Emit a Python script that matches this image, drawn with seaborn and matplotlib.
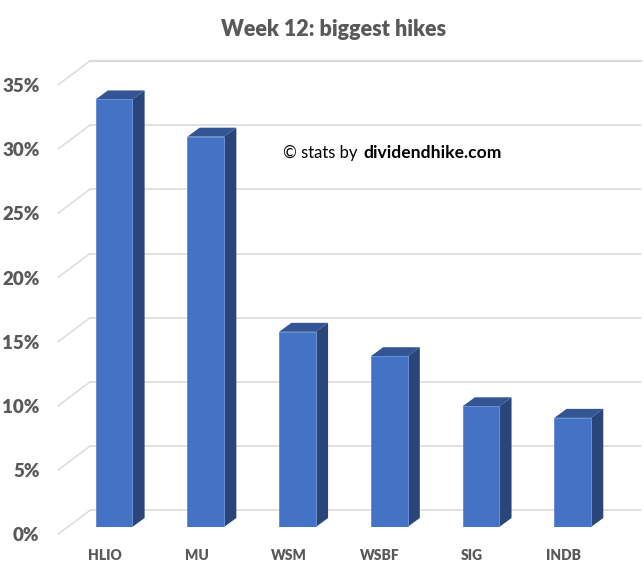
import matplotlib
matplotlib.use("Agg")
import matplotlib.pyplot as plt
from matplotlib.transforms import ScaledTranslation
import pandas as pd
import seaborn as sns

# --- values ---
tickers = ["HLIO", "MU", "WSM", "WSBF", "SIG", "INDB"]
hikes = [33.3, 30.4, 15.2, 13.3, 9.4, 8.5]
y_ticks = [0, 5, 10, 15, 20, 25, 30, 35]
y_labels = ["0%", "5%", "10%", "15%", "20%", "25%", "30%", "35%"]

FACE = "#4472C4"
TOP = "#335593"
SIDE = "#2A4579"
GRID = "#D9D9D9"
TEXT = "#595959"

sns.set_theme(style="white")
plt.rcParams["font.family"] = ["Lato", "DejaVu Sans"]

W, H = 644, 565
fig = plt.figure(figsize=(W / 100, H / 100), dpi=100)
ax = fig.add_axes([68.1 / W, (H - 527) / H, 550.4 / W, 449.4 / H])

df = pd.DataFrame({"ticker": tickers, "hike": hikes})
sns.barplot(data=df, x="ticker", y="hike", color=FACE, saturation=1, width=0.4,
            edgecolor="#6A8FD2", linewidth=0.7, zorder=3, ax=ax)
ax.set_xlim(-0.5, 5.5)
ax.set_ylim(0, 35)

# fake 3d depth, in data units
px_x = 6 / 550.4
px_y = 35 / 449.4
bar_dx, bar_dy = 12.3 * px_x, 9 * px_y
back_dx, back_dy = 21.9 * px_x, 16.7 * px_y
front_dx, front_dy = -10.1 * px_x, -7.3 * px_y
right_end = (641 - 618.5) * px_x + 5.5

for t in y_ticks:
    lw = 1.6 if t == 35 else 1.1
    ax.plot([-0.5 + back_dx, right_end], [t + back_dy, t + back_dy],
            color=GRID, lw=lw, clip_on=False, zorder=1)
    ax.plot([-0.5 + front_dx, -0.5 + back_dx], [t + front_dy, t + back_dy],
            color=GRID, lw=1, clip_on=False, zorder=1)

for bar in list(ax.patches):
    x0, w, h = bar.get_x(), bar.get_width(), bar.get_height()
    x1 = x0 + w
    ax.fill([x0, x1, x1 + bar_dx, x0 + bar_dx], [h, h, h + bar_dy, h + bar_dy],
            color=TOP, lw=0, clip_on=False, zorder=2)
    ax.fill([x1, x1 + bar_dx, x1 + bar_dx, x1], [0, bar_dy, h + bar_dy, h],
            color=SIDE, lw=0, clip_on=False, zorder=2)

sns.despine(ax=ax, left=True, bottom=True)
ax.set_xlabel("")
ax.set_ylabel("")
ax.set_yticks(y_ticks)
ax.set_yticklabels(y_labels, fontsize=13.5, fontweight="heavy", color=TEXT)
ax.tick_params(axis="y", length=0, pad=20.6)
ax.tick_params(axis="x", length=0, pad=16)
ax.set_xticks(range(len(tickers)))
ax.set_xticklabels(tickers, fontsize=10, fontweight="heavy", color=TEXT)

# labels sit on the front edge of the floor, not on the bar plane
shift_y = ScaledTranslation(0, -7.3 / 100, fig.dpi_scale_trans)
shift_x = ScaledTranslation(-9 / 100, 0, fig.dpi_scale_trans)
for lab in ax.get_yticklabels():
    lab.set_transform(lab.get_transform() + shift_y)
for lab in ax.get_xticklabels():
    lab.set_transform(lab.get_transform() + shift_x)

fig.text(333.5 / W, 1 - 29 / H, "Week 12: biggest hikes", ha="center", va="center",
         fontsize=15.5, fontweight="heavy", color=TEXT)
fig.text(282.7 / W, 1 - 153 / H, "© stats by", ha="left", va="center",
         fontsize=12, color="black")
fig.text(363.3 / W, 1 - 153 / H, "dividendhike.com", ha="left", va="center",
         fontsize=12.6, fontweight="bold", color="black")

fig.savefig("out.png", dpi=100)
